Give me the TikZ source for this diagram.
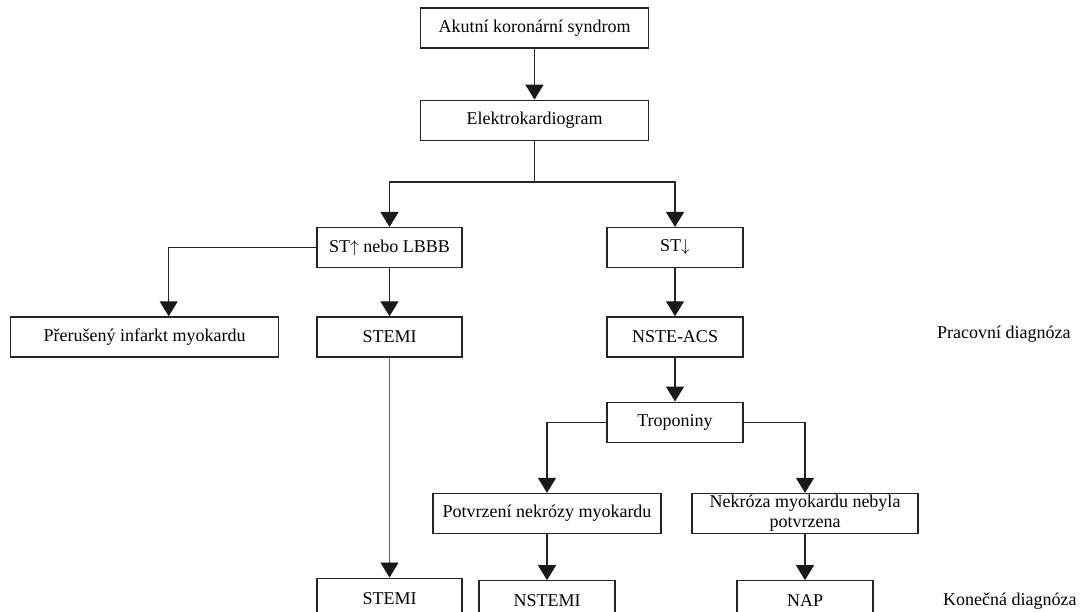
\documentclass[tikz,border=0pt]{standalone}
\usepackage{fontspec}
\setmainfont{Liberation Serif}
\usetikzlibrary{arrows.meta,positioning}

\begin{document}
\begin{tikzpicture}[
    x=1pt, y=1pt,
    box/.style={draw=black!85, line width=1.3pt, align=center, minimum width=136pt, minimum height=40pt, inner ysep=1pt, font=\fontsize{18}{20}\selectfont},
    lbl/.style={font=\fontsize{18}{20}\selectfont},
    arr/.style={-{Triangle[width=18pt,length=15pt,color=black!90]}, line width=1.3pt, draw=black!85},
    thin/.style={line width=0.8pt, draw=black!60}
  ]
    \useasboundingbox (0,0) rectangle (1091,-611);
    \node[box, minimum width=228pt] (akut) at (534.5,-28) {Akutní koronární syndrom};
    \node[box, minimum width=228pt, below=51pt of akut] (ekg) {Elektrokardiogram};
    \node[box, minimum width=145pt, below=86pt of ekg, xshift=-145pt] (stup) {ST$\uparrow$ nebo LBBB};
    \node[box, below=86pt of ekg, xshift=140.5pt] (stdown) {ST$\downarrow$};
    \node[box, minimum width=145pt, below=48pt of stup] (stemi) {STEMI};
    \node[box, minimum width=268pt, left=37pt of stemi] (prerus) {Přerušený infarkt myokardu};
    \node[box, below=48pt of stdown] (nste) {NSTE-ACS};
    \node[box, below=44pt of nste] (trop) {Troponiny};
    \node[box, minimum width=228pt, below=50pt of trop, xshift=-128pt] (potv) {Potvrzení nekrózy myokardu};
    \node[box, minimum width=226pt, below=50pt of trop, xshift=130pt] (nekr) {Nekróza myokardu nebyla\\potvrzena};
    \node[box, minimum width=145pt, below=220pt of stemi] (stemiend) {STEMI};
    \node[box, below=46pt of potv] (nstemi) {NSTEMI};
    \node[box, below=46pt of nekr] (nap) {NAP};
    \node[lbl, right=190pt of nste, yshift=3pt] (prac) {Pracovní diagnóza};
    \node[lbl, right=66pt of nap] (konec) {Konečná diagnóza};
    % spojnice
    \coordinate[below=41pt of ekg.south] (split);
    \draw[arr] (akut.south) -- (ekg.north);
    \draw[line width=1.3pt, draw=black!85] (ekg.south) -- (split);
    \draw[arr] (split) -| (stup.north);
    \draw[arr] (split) -| (stdown.north);
    \draw[arr] (stup.west) -| ([xshift=24pt]prerus.north);
    \draw[arr] (stup.south) -- (stemi.north);
    \draw[arr, thin] (stemi.south) -- (stemiend.north);
    \draw[arr] (stdown.south) -- (nste.north);
    \draw[arr] (nste.south) -- (trop.north);
    \draw[arr] (trop.west) -| (potv.north);
    \draw[arr] (trop.east) -| (nekr.north);
    \draw[arr] (potv.south) -- (nstemi.north);
    \draw[arr] (nekr.south) -- (nap.north);
\end{tikzpicture}
\end{document}
